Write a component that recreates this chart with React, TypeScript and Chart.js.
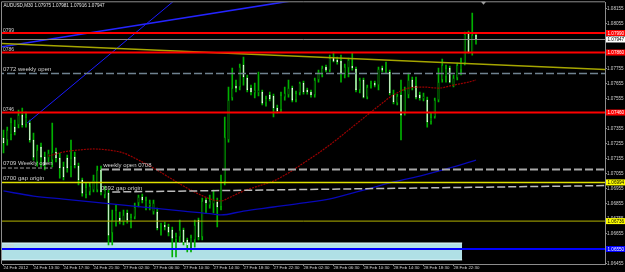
import { useEffect, useRef } from 'react';
import { Chart, registerables } from 'chart.js';

Chart.register(...registerables);

const FONT = '"Liberation Sans", Arial, sans-serif';

// ---- data ----
const symbolTitle = 'AUDUSD,M30';
const timeLabels = [
  '24 Feb 2012', '24 Feb 13:30', '24 Feb 17:30', '24 Feb 21:30',
  '27 Feb 02:30', '27 Feb 06:30', '27 Feb 10:30', '27 Feb 14:30',
  '27 Feb 18:30', '27 Feb 22:30', '28 Feb 02:30', '28 Feb 06:30',
  '28 Feb 10:30', '28 Feb 14:30', '28 Feb 18:30', '28 Feb 22:30',
];
const barsPerLabel = 8;

const opens = [
  1.07290, 1.07277, 1.07310, 1.07363, 1.07377, 1.07443, 1.07377, 1.07390, 1.07277, 1.07130,
  1.07230, 1.07163, 1.07157, 1.07143, 1.07197, 1.07157, 1.07097, 1.07157, 1.07097, 1.07163,
  1.07103, 1.07010, 1.06910, 1.06930, 1.06943, 1.06943, 1.07077, 1.06910, 1.06923, 1.06657,
  1.06723, 1.06757, 1.06730, 1.06790, 1.06730, 1.06763, 1.06857, 1.06897, 1.06830, 1.06837,
  1.06797, 1.06797, 1.06690, 1.06710, 1.06697, 1.06677, 1.06610, 1.06630, 1.06677, 1.06610,
  1.06543, 1.06610, 1.06743, 1.06630, 1.06877, 1.06843, 1.06850, 1.06863, 1.06830, 1.06997,
  1.07277, 1.07557, 1.07637, 1.07630, 1.07777, 1.07690, 1.07623, 1.07590, 1.07590, 1.07597,
  1.07523, 1.07577, 1.07570, 1.07490, 1.07477, 1.07563, 1.07577, 1.07623, 1.07543, 1.07590,
  1.07657, 1.07610, 1.07597, 1.07577, 1.07677, 1.07710, 1.07763, 1.07743, 1.07823, 1.07810,
  1.07803, 1.07710, 1.07757, 1.07770, 1.07750, 1.07610, 1.07677, 1.07563, 1.07643, 1.07657,
  1.07643, 1.07757, 1.07730, 1.07730, 1.07577, 1.07523, 1.07577, 1.07457, 1.07577, 1.07677,
  1.07637, 1.07577, 1.07550, 1.07543, 1.07397, 1.07430, 1.07543, 1.07677, 1.07697, 1.07757,
  1.07643, 1.07690, 1.07743, 1.07790, 1.07990, 1.07857, 1.07975,
];
const highs = [
  1.07343, 1.07363, 1.07423, 1.07410, 1.07477, 1.07490, 1.07463, 1.07410, 1.07323, 1.07243,
  1.07257, 1.07197, 1.07210, 1.07390, 1.07223, 1.07190, 1.07130, 1.07177, 1.07277, 1.07197,
  1.07123, 1.07023, 1.06990, 1.06990, 1.07043, 1.07103, 1.07103, 1.06970, 1.06943, 1.06810,
  1.06843, 1.06797, 1.06810, 1.06810, 1.06783, 1.06857, 1.06910, 1.06917, 1.06897, 1.06877,
  1.06877, 1.06823, 1.06723, 1.06730, 1.06717, 1.06697, 1.06657, 1.06743, 1.06690, 1.06623,
  1.06643, 1.06743, 1.06757, 1.06890, 1.06890, 1.06910, 1.06943, 1.06890, 1.07043, 1.07430,
  1.07630, 1.07757, 1.07677, 1.07783, 1.07830, 1.07710, 1.07643, 1.07657, 1.07730, 1.07610,
  1.07570, 1.07597, 1.07583, 1.07510, 1.07597, 1.07630, 1.07677, 1.07637, 1.07603, 1.07663,
  1.07670, 1.07623, 1.07610, 1.07690, 1.07743, 1.07770, 1.07777, 1.07843, 1.07863, 1.07830,
  1.07843, 1.07783, 1.07823, 1.07857, 1.07763, 1.07690, 1.07690, 1.07643, 1.07670, 1.07670,
  1.07763, 1.07770, 1.07797, 1.07743, 1.07610, 1.07583, 1.07677, 1.07630, 1.07723, 1.07697,
  1.07697, 1.07597, 1.07590, 1.07563, 1.07457, 1.07557, 1.07757, 1.07817, 1.07777, 1.07770,
  1.07710, 1.07790, 1.07823, 1.07997, 1.08003, 1.08123, 1.07981,
];
const lows = [
  1.07190, 1.07243, 1.07277, 1.07310, 1.07357, 1.07363, 1.07363, 1.07263, 1.07143, 1.07103,
  1.07097, 1.07077, 1.07130, 1.07097, 1.07130, 1.07023, 1.07010, 1.07063, 1.07030, 1.07090,
  1.06977, 1.06903, 1.06890, 1.06910, 1.06930, 1.06930, 1.06910, 1.06890, 1.06577, 1.06577,
  1.06703, 1.06717, 1.06710, 1.06723, 1.06690, 1.06750, 1.06830, 1.06857, 1.06810, 1.06810,
  1.06783, 1.06677, 1.06643, 1.06677, 1.06637, 1.06497, 1.06497, 1.06597, 1.06577, 1.06530,
  1.06530, 1.06563, 1.06610, 1.06610, 1.06790, 1.06823, 1.06790, 1.06697, 1.06810, 1.06977,
  1.07263, 1.07543, 1.07597, 1.07610, 1.07643, 1.07597, 1.07577, 1.07557, 1.07570, 1.07510,
  1.07503, 1.07537, 1.07430, 1.07457, 1.07463, 1.07543, 1.07563, 1.07530, 1.07530, 1.07577,
  1.07583, 1.07583, 1.07563, 1.07563, 1.07663, 1.07697, 1.07730, 1.07730, 1.07797, 1.07783,
  1.07663, 1.07690, 1.07697, 1.07743, 1.07597, 1.07590, 1.07557, 1.07550, 1.07623, 1.07630,
  1.07610, 1.07730, 1.07723, 1.07577, 1.07517, 1.07510, 1.07277, 1.07443, 1.07557, 1.07610,
  1.07550, 1.07543, 1.07537, 1.07363, 1.07383, 1.07423, 1.07530, 1.07663, 1.07663, 1.07657,
  1.07630, 1.07677, 1.07710, 1.07777, 1.07857, 1.07843, 1.07916,
];
const closes = [
  1.07257, 1.07343, 1.07397, 1.07330, 1.07443, 1.07377, 1.07430, 1.07277, 1.07163, 1.07210,
  1.07163, 1.07110, 1.07190, 1.07197, 1.07157, 1.07090, 1.07030, 1.07090, 1.07157, 1.07110,
  1.07010, 1.06923, 1.06963, 1.06970, 1.07010, 1.07077, 1.06930, 1.06943, 1.06643, 1.06743,
  1.06810, 1.06737, 1.06777, 1.06743, 1.06763, 1.06830, 1.06897, 1.06877, 1.06877, 1.06857,
  1.06857, 1.06690, 1.06703, 1.06697, 1.06663, 1.06623, 1.06637, 1.06677, 1.06597, 1.06577,
  1.06630, 1.06710, 1.06630, 1.06870, 1.06857, 1.06870, 1.06877, 1.06830, 1.07010, 1.07297,
  1.07543, 1.07623, 1.07623, 1.07763, 1.07697, 1.07610, 1.07597, 1.07610, 1.07610, 1.07523,
  1.07557, 1.07550, 1.07490, 1.07470, 1.07577, 1.07590, 1.07623, 1.07543, 1.07590, 1.07657,
  1.07597, 1.07597, 1.07577, 1.07677, 1.07730, 1.07757, 1.07743, 1.07823, 1.07803, 1.07797,
  1.07723, 1.07763, 1.07810, 1.07757, 1.07610, 1.07677, 1.07563, 1.07630, 1.07657, 1.07643,
  1.07750, 1.07743, 1.07743, 1.07590, 1.07530, 1.07570, 1.07443, 1.07610, 1.07677, 1.07630,
  1.07563, 1.07557, 1.07570, 1.07397, 1.07430, 1.07543, 1.07663, 1.07777, 1.07757, 1.07663,
  1.07690, 1.07777, 1.07803, 1.07983, 1.07857, 1.07977, 1.07947,
];

const priceTicks = [
  1.06455, 1.06555, 1.06655, 1.06755, 1.06855, 1.06955, 1.07055, 1.07155, 1.07255,
  1.07355, 1.07455, 1.07555, 1.07655, 1.07755, 1.07855, 1.07955, 1.08055, 1.08155,
];

const blueMaIndex = [0, 8, 16, 24, 32, 40, 48, 56, 58, 64, 72, 80, 88, 96, 104, 112, 120, 126];
const blueMaValues = [
  1.06937, 1.06903, 1.06883, 1.06863, 1.06843, 1.06823, 1.06803, 1.06783, 1.06777,
  1.06803, 1.06830, 1.06857, 1.06890, 1.06943, 1.06997, 1.07043, 1.07097, 1.07143,
];
const redMaIndex = [12, 16, 20, 24, 28, 32, 36, 40, 44, 48, 52, 56, 58, 60, 64, 68, 72, 76, 80, 84, 88, 92, 96, 100, 104, 108, 112, 116, 120, 124, 126];
const redMaValues = [
  1.07170, 1.07197, 1.07210, 1.07217, 1.07210, 1.07190, 1.07143, 1.07090, 1.07030, 1.06970,
  1.06917, 1.06877, 1.06870, 1.06890, 1.06937, 1.06970, 1.07003, 1.07057, 1.07123, 1.07190,
  1.07263, 1.07343, 1.07423, 1.07503, 1.07577, 1.07623, 1.07630, 1.07623, 1.07643, 1.07663,
  1.07677,
];

const redLevels = [1.0799, 1.0786, 1.0746];
const bidPrice = 1.07947;
const weeklyOpen = 1.0772;
const prevWeeklyOpen = 1.0709;
const weeklyOpenLine = 1.0708;
const gapOrigin = 1.06994;
const lowerYellow = 1.06736;
const blueLevel = 1.0655;
const gapZoneTop = 1.0659;
const gapZoneBottom = 1.06477;
const gapZoneEndBar = 122.3;

// trendline anchors: [bar index, price]
const yellowTrend = [[-1, 1.07921], [161, 1.07747]];
const steepBlueTrend = [[6.3, 1.0739], [50, 1.08299]];
const shallowBlueTrend = [[-1, 1.07896], [90, 1.08257]];
const gapTrend = [[29, 1.0693], [161, 1.06973]];

const yMin = 1.0645;
const yMax = 1.08195;
const xMin = -0.4;
const xMax = 160.4;

export default function App() {
  const ref = useRef<HTMLCanvasElement | null>(null);

  useEffect(() => {
    document.body.style.margin = '0';
    document.body.style.background = '#000';
    const canvas = ref.current;
    if (!canvas) return;

    const n = opens.length;
    const idx = opens.map((_, i) => i);
    const bull = idx.map((i) => closes[i] >= opens[i]);
    const L = -2;
    const R = 170;

    const seg = (pts: number[][], color: string, width: number, dash: number[], order: number, extra: any = {}) => ({
      type: 'line',
      data: pts.map((p) => ({ x: p[0], y: p[1] })),
      borderColor: color,
      borderWidth: width,
      borderDash: dash,
      borderCapStyle: 'butt',
      pointRadius: 0,
      pointHoverRadius: 0,
      fill: false,
      tension: 0,
      order,
      ...extra,
    });

    const datasets: any[] = [
      seg([[L, gapZoneTop], [gapZoneEndBar, gapZoneTop]], '#dff6f9', 1, [], 40, {
        fill: { value: gapZoneBottom },
        backgroundColor: '#b0e0e6',
      }),
      seg([[L, gapZoneBottom], [gapZoneEndBar, gapZoneBottom]], '#dff6f9', 1, [], 39),
      {
        type: 'bar',
        data: idx.map((i) => ({ x: i, y: [lows[i], highs[i]] })),
        backgroundColor: '#00b000',
        borderWidth: 0,
        grouped: false,
        barThickness: 1,
        maxBarThickness: 1,
        minBarLength: 1,
        order: 31,
      },
      {
        type: 'bar',
        data: idx.map((i) => ({ x: i, y: [opens[i], closes[i]] })),
        backgroundColor: idx.map((i) => (bull[i] ? '#000000' : '#ffffff')),
        borderColor: idx.map((i) => (bull[i] ? '#00b000' : '#e8ffe8')),
        borderWidth: 1,
        borderSkipped: false,
        grouped: false,
        barThickness: 1,
        maxBarThickness: 3,
        minBarLength: 1,
        order: 30,
      },
      seg(blueMaIndex.map((x, k) => [x, blueMaValues[k]]), '#0808b8', 1.3, [], 10, { cubicInterpolationMode: 'monotone' }),
      seg(redMaIndex.map((x, k) => [x, redMaValues[k]]), '#9a0000', 1.2, [2, 1], 10, { cubicInterpolationMode: 'monotone' }),
      seg(yellowTrend, '#a6a600', 1.5, [], 8),
      seg(steepBlueTrend, '#1a1aff', 1, [], 8),
      seg(shallowBlueTrend, '#2424ff', 1.6, [], 8),
      seg([[L, weeklyOpen], [R, weeklyOpen]], '#6f8290', 1.5, [8, 3], 6),
      seg([[L, prevWeeklyOpen], [13, prevWeeklyOpen]], '#9a9a9a', 1, [4, 2], 6),
      seg([[26, weeklyOpenLine], [R, weeklyOpenLine]], '#a8a8a8', 2, [8, 3], 6),
      seg(gapTrend, '#bcbcbc', 1.5, [8, 3], 6),
      seg([[L, gapOrigin], [R, gapOrigin]], '#e0e000', 1.5, [], 5),
      seg([[L, lowerYellow], [R, lowerYellow]], '#b4b400', 1, [], 5),
      seg([[L, blueLevel], [R, blueLevel]], '#0000ff', 2, [], 5),
      seg([[L, bidPrice], [R, bidPrice]], '#8c8c8c', 1, [], 4),
      ...redLevels.map((v) => seg([[L, v], [R, v]], '#ff0000', 2, [], 3)),
    ];

    const leftLabels = [
      { text: '0799', price: redLevels[0], at: xMin, size: 5, lift: 1.5 },
      { text: '0786', price: redLevels[1], at: xMin, size: 5, lift: 1.5 },
      { text: '0772 weekly open', price: weeklyOpen, at: xMin, size: 6, lift: 2.2 },
      { text: '0746', price: redLevels[2], at: xMin, size: 5, lift: 1.5 },
      { text: '0709 Weekly open', price: prevWeeklyOpen, at: xMin, size: 6, lift: 3.2 },
      { text: '0700 gap origin', price: 1.07, at: xMin, size: 6, lift: 2 },
      { text: 'weekly open 0708', price: weeklyOpenLine, at: 26.3, size: 6, lift: 2.8 },
      { text: '0692 gap origin', price: 1.0692, at: 25.7, size: 6, lift: 3.8 },
      { text: '0655', price: blueLevel, at: xMin, size: 5, lift: 1.2 },
    ];

    const axisBoxes = [
      { price: redLevels[0], bg: '#ff0000', fg: '#ffffff' },
      { price: bidPrice, bg: '#ffffff', fg: '#000000' },
      { price: redLevels[1], bg: '#ff0000', fg: '#ffffff' },
      { price: redLevels[2], bg: '#ff0000', fg: '#ffffff' },
      { price: gapOrigin, bg: '#ffff00', fg: '#000000' },
      { price: lowerYellow, bg: '#ffff00', fg: '#000000' },
      { price: blueLevel, bg: '#0000ff', fg: '#ffffff' },
    ];

    const last = n - 1;
    const titleText = `${symbolTitle} ${opens[last].toFixed(5)} ${highs[last].toFixed(5)} ${lows[last].toFixed(5)} ${closes[last].toFixed(5)}`;

    const overlay = {
      id: 'mt4Overlay',
      beforeDraw(chart: any) {
        const { ctx, width, height } = chart;
        ctx.save();
        ctx.fillStyle = '#000000';
        ctx.fillRect(0, 0, width, height);
        ctx.restore();
      },
      afterDraw(chart: any) {
        const { ctx, chartArea: a, scales, width } = chart;
        const xs = scales.x;
        const ys = scales.y;
        ctx.save();
        ctx.strokeStyle = '#8c8c8c';
        ctx.lineWidth = 1;
        ctx.beginPath();
        ctx.moveTo(a.left - 0.5, a.bottom);
        ctx.lineTo(a.left - 0.5, a.top - 0.5);
        ctx.lineTo(a.right, a.top - 0.5);
        ctx.stroke();

        const sx = xs.getPixelForValue(n + 1);
        ctx.fillStyle = '#a0a0a0';
        ctx.beginPath();
        ctx.moveTo(sx - 2.5, a.top - 0.5);
        ctx.lineTo(sx + 2.5, a.top - 0.5);
        ctx.lineTo(sx, a.top + 2.5);
        ctx.closePath();
        ctx.fill();

        ctx.fillStyle = '#e6e6e6';
        ctx.font = `4.6px ${FONT}`;
        ctx.textBaseline = 'top';
        ctx.textAlign = 'left';
        ctx.fillText(titleText, a.left + 1.5, a.top + 1);

        ctx.textBaseline = 'alphabetic';
        ctx.fillStyle = '#cfcfcf';
        for (const lb of leftLabels) {
          ctx.font = `${lb.size}px ${FONT}`;
          const px = xs.getPixelForValue(lb.at) + 1;
          const py = ys.getPixelForValue(lb.price) - lb.lift;
          ctx.fillText(lb.text, px, py);
        }

        ctx.font = `4.6px ${FONT}`;
        ctx.textBaseline = 'middle';
        for (const b of axisBoxes) {
          const py = ys.getPixelForValue(b.price);
          ctx.fillStyle = b.bg;
          ctx.fillRect(a.right + 1, py - 3, width - a.right - 1, 6);
          ctx.fillStyle = b.fg;
          ctx.fillText(b.price.toFixed(5), a.right + 2.5, py + 0.3);
        }
        ctx.restore();
      },
    };

    const chart = new Chart(canvas, {
      type: 'bar',
      data: { datasets },
      options: {
        animation: false,
        responsive: false,
        devicePixelRatio: 1,
        events: [],
        layout: { padding: { left: 2, top: 2, right: 0, bottom: 0 } },
        plugins: {
          legend: { display: false },
          tooltip: { enabled: false },
          title: { display: false },
        },
        scales: {
          x: {
            type: 'linear',
            min: xMin,
            max: xMax,
            offset: false,
            grid: { display: true, offset: false, drawOnChartArea: false, drawTicks: true, tickLength: 2, color: '#8c8c8c' },
            border: { display: true, color: '#8c8c8c' },
            ticks: {
              autoSkip: false,
              maxRotation: 0,
              minRotation: 0,
              align: 'start',
              padding: 0,
              color: '#d0d0d0',
              font: { family: FONT, size: 4.4, lineHeight: 1 },
              callback: (v: any) => timeLabels[Math.round(Number(v) / barsPerLabel)] ?? '',
            },
            afterBuildTicks: (s: any) => {
              s.ticks = timeLabels.map((_, k) => ({ value: k * barsPerLabel }));
            },
            afterFit: (s: any) => {
              s.height = 8;
            },
          },
          y: {
            type: 'linear',
            position: 'right',
            min: yMin,
            max: yMax,
            grid: { display: true, drawOnChartArea: false, drawTicks: true, tickLength: 2, color: '#8c8c8c' },
            border: { display: true, color: '#8c8c8c' },
            ticks: {
              autoSkip: false,
              padding: 0,
              color: '#d0d0d0',
              font: { family: FONT, size: 4.6, lineHeight: 1 },
              callback: (v: any) => Number(v).toFixed(5),
            },
            afterBuildTicks: (s: any) => {
              s.ticks = priceTicks.map((v) => ({ value: v }));
            },
            afterFit: (s: any) => {
              s.width = 20;
            },
          },
        },
      } as any,
      plugins: [overlay],
    } as any);

    return () => chart.destroy();
  }, []);

  return (
    <div style={{ width: 625, height: 272, background: '#000' }}>
      <canvas ref={ref} width={625} height={272} style={{ display: 'block', width: 625, height: 272 }} />
    </div>
  );
}
